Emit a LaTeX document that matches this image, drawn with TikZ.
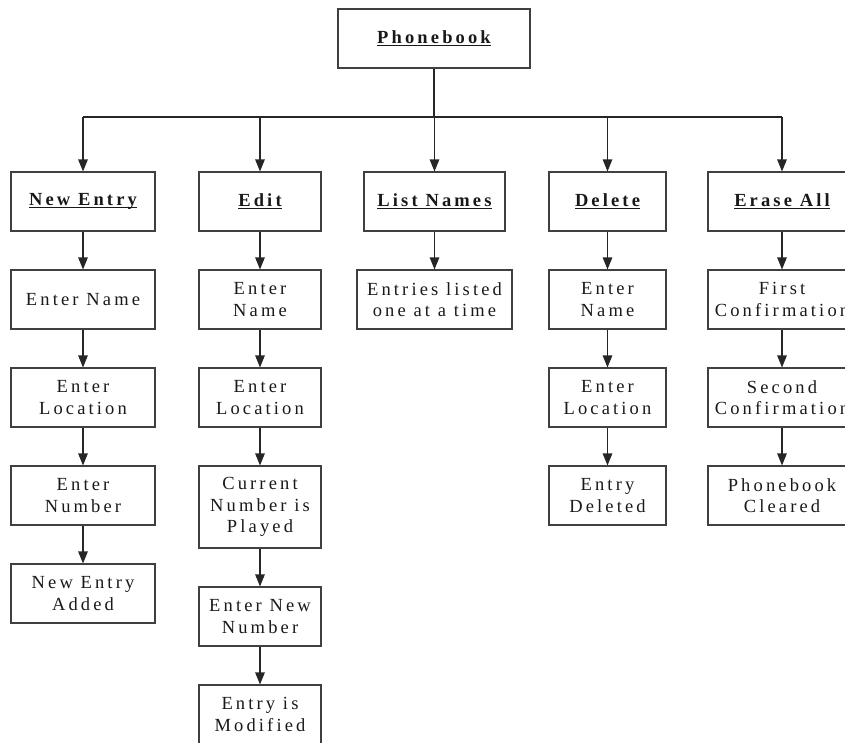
\documentclass[tikz,border=0pt]{standalone}
\usepackage{fontspec}
\setmainfont{Liberation Serif}
\newfontfamily\spaced[LetterSpace=17]{Liberation Serif}
\usetikzlibrary{arrows.meta}
\newcommand\ulbl[1]{\setbox0\hbox{\bfseries #1}\rlap{\rule[-2.8pt]{\wd0}{1.3pt}}\box0}
\tikzset{
  box/.style={draw=black!75, line width=1.1pt, minimum height=59pt, inner sep=0pt, align=center,
    font=\spaced\fontsize{18.5}{21.5}\selectfont, text=black!90},
  conn/.style={draw=black!85, line width=1.1pt},
  arr/.style={conn, -{Triangle[length=12pt,width=9.5pt]}}
}
\begin{document}
\begin{tikzpicture}[x=1pt,y=-1pt]
\useasboundingbox (0,0) rectangle (845,742);
\clip (0,0) rectangle (845,742);
% root
\node[box, minimum width=192pt] (root) at (434,38.5) {\ulbl{Phonebook}};
% level 1
\node[box, minimum width=144pt] (ne1) at (83,201.5) {\ulbl{New Entry}};
\node[box, minimum width=122pt] (ed1) at (260,201.5) {\ulbl{Edit}};
\node[box, minimum width=141pt] (ln1) at (434.5,201.5) {\ulbl{List Names}};
\node[box, minimum width=117pt] (de1) at (607.5,201.5) {\ulbl{Delete}};
\node[box, minimum width=148pt] (ea1) at (782,201.5) {\ulbl{Erase All}};
% level 2
\node[box, minimum width=144pt] (ne2) at (83,299.5) {Enter Name};
\node[box, minimum width=122pt] (ed2) at (260,299.5) {Enter\\Name};
\node[box, minimum width=155pt] (ln2) at (434.5,299.5) {Entries listed\\one at a time};
\node[box, minimum width=117pt] (de2) at (607.5,299.5) {Enter\\Name};
\node[box, minimum width=148pt] (ea2) at (782,299.5) {First\\Confirmation};
% level 3
\node[box, minimum width=144pt] (ne3) at (83,397.5) {Enter\\Location};
\node[box, minimum width=122pt] (ed3) at (260,397.5) {Enter\\Location};
\node[box, minimum width=117pt] (de3) at (607.5,397.5) {Enter\\Location};
\node[box, minimum width=148pt] (ea3) at (782,397.5) {Second\\Confirmation};
% level 4
\node[box, minimum width=144pt] (ne4) at (83,495.5) {Enter\\Number};
\node[box, minimum width=122pt, minimum height=82pt] (ed4) at (260,507) {Current\\Number is\\Played};
\node[box, minimum width=117pt] (de4) at (607.5,495.5) {Entry\\Deleted};
\node[box, minimum width=148pt] (ea4) at (782,495.5) {Phonebook\\Cleared};
% level 5
\node[box, minimum width=144pt] (ne5) at (83,593.5) {New Entry\\Added};
\node[box, minimum width=122pt] (ed5) at (260,616.5) {Enter New\\Number};
% level 6
\node[box, minimum width=122pt] (ed6) at (260,714.5) {Entry is\\Modified};
% bus
\coordinate (bus) at (434,117);
\draw[conn] (root.south) -- (bus);
\draw[conn] (ne1.north |- bus) -- (ea1.north |- bus);
\foreach \n in {ne1,ed1,ln1,de1,ea1}
  \draw[arr] (\n.north |- bus) -- (\n.north);
% columns
\draw[arr] (ne1) -- (ne2);
\draw[arr] (ne2) -- (ne3);
\draw[arr] (ne3) -- (ne4);
\draw[arr] (ne4) -- (ne5);
\draw[arr] (ed1) -- (ed2);
\draw[arr] (ed2) -- (ed3);
\draw[arr] (ed3) -- (ed4);
\draw[arr] (ed4) -- (ed5);
\draw[arr] (ed5) -- (ed6);
\draw[arr] (ln1) -- (ln2);
\draw[arr] (de1) -- (de2);
\draw[arr] (de2) -- (de3);
\draw[arr] (de3) -- (de4);
\draw[arr] (ea1) -- (ea2);
\draw[arr] (ea2) -- (ea3);
\draw[arr] (ea3) -- (ea4);
\end{tikzpicture}
\end{document}
